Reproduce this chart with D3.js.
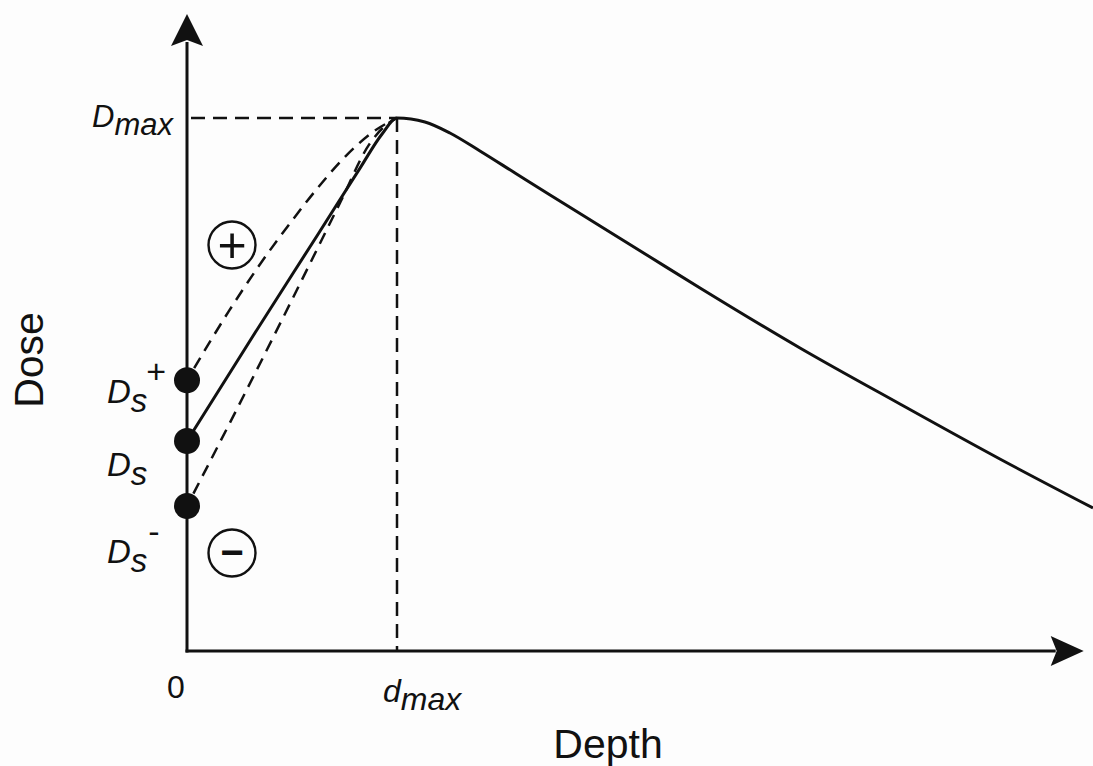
<!DOCTYPE html>
<html>
<head>
<meta charset="utf-8">
<script src="https://cdn.jsdelivr.net/npm/d3@7"></script>
<style>
  body { margin: 0; background: #fdfdfd; }
  svg { display: block; }
  text { font-family: "Liberation Sans", Arial, Helvetica, sans-serif; fill: #111; }
</style>
</head>
<body>
<svg id="chart" width="1093" height="766"></svg>
<script>
// Depth in units of dmax, dose in % of Dmax
const DMAX_DEPTH = 1;
const DMAX_DOSE = 100;
const AXIS_DEPTH_END = 4.27;
const AXIS_DOSE_END = 119.5;

// solid curve: build-up part
const riseDepth = [0, 0.324, 0.624, 0.824, 0.929, 1];
const riseDose  = [39.4, 59.7, 78.2, 90.6, 97.0, 100];

// solid curve: fall-off after dmax
const fallDepth = [1, 1.133, 1.252, 1.395, 1.562, 1.729, 1.967, 2.205, 2.443, 2.919, 3.395, 3.871, 4.314];
const fallDose  = [100, 99.25, 97.19, 93.81, 89.68, 85.55, 79.74, 73.92, 68.11, 56.85, 46.34, 36.02, 26.83];

// dashed build-up curves for the + and - surface dose
const plusDepth  = [0, 0.2, 0.329, 0.505, 0.629, 0.757, 0.886, 1];
const plusDose   = [50.8, 63.8, 71.5, 81.0, 87.2, 92.9, 97.4, 100];
const minusDepth = [0, 0.252, 0.5, 0.729, 0.867, 0.948, 1];
const minusDose  = [27.2, 46.5, 65.9, 84.1, 95.0, 98.7, 100];

// surface doses Ds-, Ds, Ds+
const surfaceDose = [27.2, 39.4, 50.8];
const surfaceSup = ["-", "", "+"];

var svg = d3.select("#chart");

var x = d3.scaleLinear().domain([0, DMAX_DEPTH]).range([187, 397]);
var y = d3.scaleLinear().domain([0, DMAX_DOSE]).range([651, 118]);

function zip(a, b) {
  return a.map(function(d, i) { return [d, b[i]]; });
}

var line = d3.line()
  .x(function(d) { return x(d[0]); })
  .y(function(d) { return y(d[1]); })
  .curve(d3.curveMonotoneX);

// axes with arrow heads
var x0 = x(0), y0 = y(0);
var xEnd = x(AXIS_DEPTH_END), yEnd = y(AXIS_DOSE_END);

svg.append("line")
  .attr("x1", x0).attr("y1", y0 + 1.5)
  .attr("x2", x0).attr("y2", yEnd + 28)
  .attr("stroke", "#111").attr("stroke-width", 3);
svg.append("path")
  .attr("d", "M" + x0 + "," + yEnd + " L" + (x0 + 16) + "," + (yEnd + 32) +
    " L" + x0 + "," + (yEnd + 26) + " L" + (x0 - 16) + "," + (yEnd + 32) + "Z")
  .attr("fill", "#111");

svg.append("line")
  .attr("x1", x0 - 1.5).attr("y1", y0)
  .attr("x2", xEnd - 28).attr("y2", y0)
  .attr("stroke", "#111").attr("stroke-width", 3);
svg.append("path")
  .attr("d", "M" + xEnd + "," + y0 + " L" + (xEnd - 33) + "," + (y0 - 15) +
    " L" + (xEnd - 27) + "," + y0 + " L" + (xEnd - 33) + "," + (y0 + 15) + "Z")
  .attr("fill", "#111");

// dmax guide lines
svg.append("line")
  .attr("x1", x0 + 4).attr("y1", y(DMAX_DOSE))
  .attr("x2", x(DMAX_DEPTH)).attr("y2", y(DMAX_DOSE))
  .attr("stroke", "#111").attr("stroke-width", 2.5)
  .attr("stroke-dasharray", "14,8");
svg.append("line")
  .attr("x1", x(DMAX_DEPTH)).attr("y1", y(DMAX_DOSE))
  .attr("x2", x(DMAX_DEPTH)).attr("y2", y0)
  .attr("stroke", "#111").attr("stroke-width", 2.5)
  .attr("stroke-dasharray", "14,8");

// dashed build-up curves
[zip(plusDepth, plusDose), zip(minusDepth, minusDose)].forEach(function(pts) {
  svg.append("path")
    .attr("d", line(pts))
    .attr("fill", "none")
    .attr("stroke", "#111")
    .attr("stroke-width", 2.5)
    .attr("stroke-dasharray", "12,8")
    .attr("stroke-dashoffset", -14);
});

// solid depth dose curve
var solid = zip(riseDepth, riseDose).concat(zip(fallDepth, fallDose).slice(1));
svg.append("path")
  .attr("d", line(solid))
  .attr("fill", "none")
  .attr("stroke", "#111")
  .attr("stroke-width", 3);

// surface dose dots
svg.selectAll(".dot")
  .data(surfaceDose)
  .enter()
  .append("circle")
  .attr("class", "dot")
  .attr("cx", x0)
  .attr("cy", function(d) { return y(d); })
  .attr("r", 13)
  .attr("fill", "#111");

// Ds labels (baseline offset below each dot)
var labelOffset = [57, 35, 23];
var ds = svg.selectAll(".ds")
  .data(surfaceDose)
  .enter()
  .append("text")
  .attr("class", "ds")
  .attr("x", 107)
  .attr("y", function(d, i) { return y(d) + labelOffset[i]; })
  .style("font-size", "33px")
  .style("font-style", "italic");
ds.append("tspan").text("D");
ds.append("tspan").attr("dy", 9).text("s");
ds.append("tspan")
  .attr("dy", -29)
  .attr("dx", function(d, i) { return surfaceSup[i] == "-" ? 1 : -1; })
  .style("font-style", "normal")
  .style("font-size", "34px")
  .text(function(d, i) { return surfaceSup[i]; });

// Dmax label
var dm = svg.append("text")
  .attr("x", 92).attr("y", y(DMAX_DOSE) + 9)
  .style("font-size", "31px").style("font-style", "italic");
dm.append("tspan").text("D");
dm.append("tspan").attr("dy", 8).text("max");

// depth tick labels
svg.append("text")
  .attr("x", x0 - 11).attr("y", 698)
  .attr("text-anchor", "middle")
  .style("font-size", "32px")
  .text("0");
var dd = svg.append("text")
  .attr("x", 383).attr("y", 702)
  .style("font-size", "32px").style("font-style", "italic");
dd.append("tspan").text("d");
dd.append("tspan").attr("dy", 8).text("max");

// axis titles
svg.append("text")
  .attr("x", 608).attr("y", 758)
  .attr("text-anchor", "middle")
  .style("font-size", "41px")
  .text("Depth");
svg.append("text")
  .attr("transform", "translate(43,360) rotate(-90)")
  .attr("text-anchor", "middle")
  .style("font-size", "41px")
  .text("Dose");

// circled signs
var signs = [
  {s: "+", cx: 232, cy: 245, size: 50, weight: "normal", dy: 17},
  {s: "\u2212", cx: 232, cy: 553, size: 40, weight: "bold", dy: 13}
];
svg.selectAll(".sign")
  .data(signs)
  .enter()
  .append("circle")
  .attr("cx", function(d) { return d.cx; })
  .attr("cy", function(d) { return d.cy; })
  .attr("r", 23.5)
  .attr("fill", "none")
  .attr("stroke", "#111")
  .attr("stroke-width", 2.4);
svg.selectAll(".signtxt")
  .data(signs)
  .enter()
  .append("text")
  .attr("x", function(d) { return d.cx; })
  .attr("y", function(d) { return d.cy + d.dy; })
  .attr("text-anchor", "middle")
  .style("font-size", function(d) { return d.size + "px"; })
  .style("font-weight", function(d) { return d.weight; })
  .text(function(d) { return d.s; });
</script>
</body>
</html>
